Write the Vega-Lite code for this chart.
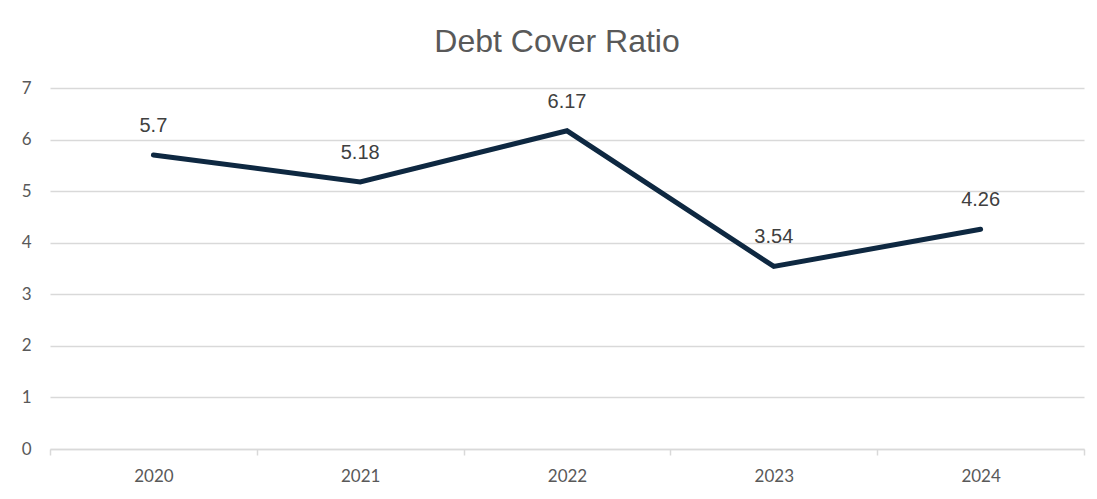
{
  "$schema": "https://vega.github.io/schema/vega-lite/v6.json",
  "autosize": {"type": "none"},
  "width": 1034,
  "height": 361,
  "padding": {"left": 50, "top": 88, "right": 13, "bottom": 50},
  "background": "white",
  "title": {
    "text": "Debt Cover Ratio",
    "font": "Liberation Sans",
    "fontSize": 32,
    "fontWeight": "normal",
    "color": "#595959",
    "anchor": "middle",
    "offset": 20,
    "dx": -10
  },
  "data": {
    "values": [
      {"year": "2020", "ratio": 5.7},
      {"year": "2021", "ratio": 5.18},
      {"year": "2022", "ratio": 6.17},
      {"year": "2023", "ratio": 3.54},
      {"year": "2024", "ratio": 4.26}
    ]
  },
  "encoding": {
    "x": {
      "field": "year",
      "type": "ordinal",
      "bandPosition": 0.5,
      "scale": {"type": "band", "paddingInner": 0, "paddingOuter": 0},
      "axis": {
        "title": null,
        "labelAngle": 0,
        "labelFont": "Lato",
        "labelFontSize": 17,
        "labelColor": "#595959",
        "labelPadding": 13,
        "domainColor": "#d9d9d9",
        "domainWidth": 1.5,
        "tickColor": "#d9d9d9",
        "tickWidth": 1.5,
        "tickSize": 6,
        "tickBand": "extent",
        "grid": false
      }
    },
    "y": {
      "field": "ratio",
      "type": "quantitative",
      "scale": {"domain": [0, 7], "nice": false},
      "axis": {
        "title": null,
        "values": [0, 1, 2, 3, 4, 5, 6, 7],
        "labelFont": "Lato",
        "labelFontSize": 17,
        "labelColor": "#595959",
        "labelPadding": 19,
        "domain": false,
        "ticks": false,
        "gridColor": "#d9d9d9",
        "gridWidth": 1.5
      }
    }
  },
  "layer": [
    {
      "mark": {"type": "line", "color": "#0e2841", "strokeWidth": 5, "strokeCap": "round", "strokeJoin": "miter"}
    },
    {
      "mark": {"type": "text", "dy": -29, "font": "Liberation Sans", "fontSize": 20, "color": "#404040"},
      "encoding": {"text": {"field": "ratio", "type": "quantitative"}}
    }
  ],
  "config": {"view": {"stroke": null}}
}
